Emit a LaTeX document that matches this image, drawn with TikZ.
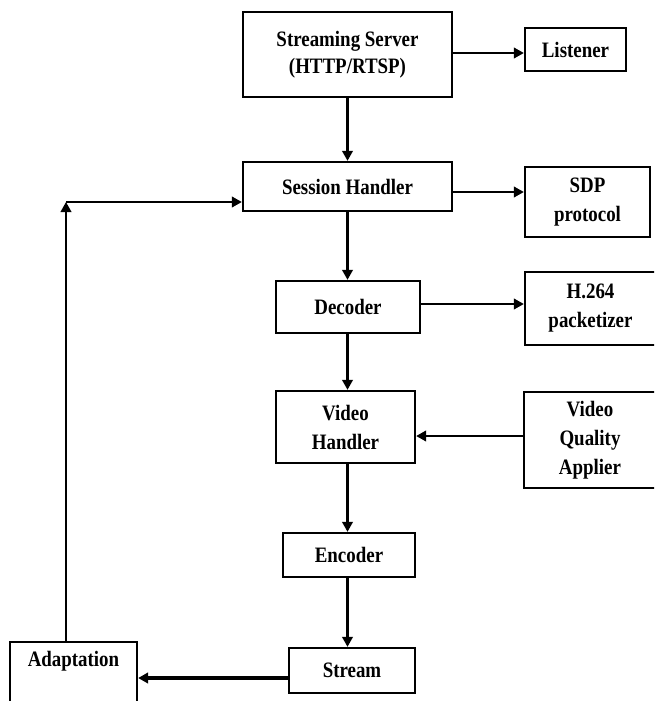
\documentclass[tikz,border=0pt]{standalone}
\usepackage{fontspec}
\setmainfont{Liberation Serif}[FakeStretch=0.86]
\usetikzlibrary{arrows.meta}
\begin{document}
\begin{tikzpicture}[x=1pt,y=-1pt,
  txt/.style={align=center, inner sep=0pt, font=\fontsize{22}{29}\selectfont\bfseries},
  box/.style={txt, draw, line width=2.3pt},
  conn/.style={line width=2.3pt, -{Triangle[length=10pt,width=10.5pt]}}]
\useasboundingbox (0,0) rectangle (654,701);
\clip (0,0) rectangle (654,701);
\fill[white] (0,0) rectangle (654,701);
\node[box, minimum width=209pt, minimum height=85pt] (srv) at (347.5,54.5) {Streaming Server\\[-2pt](HTTP/RTSP)};
\node[box, minimum width=101pt, minimum height=43pt] (lis) at (575.5,49.5) {Listener};
\node[box, minimum width=209pt, minimum height=49pt] (ses) at (347.5,186.5) {Session Handler};
\node[box, minimum width=125pt, minimum height=70pt] (sdp) at (587.5,202) {SDP\\protocol};
\node[box, minimum width=144pt, minimum height=52pt] (dec) at (348,307) {Decoder};
\node[box, minimum width=131pt, minimum height=73pt] (h264) at (590.5,308.5) {H.264\\packetizer};
\node[box, minimum width=139pt, minimum height=72pt] (vh) at (345.5,427) {Video\\Handler};
\node[box, minimum width=132pt, minimum height=96pt] (vqa) at (590,440) {Video\\Quality\\Applier};
\node[box, minimum width=132pt, minimum height=44pt] (enc) at (349,555) {Encoder};
\node[box, minimum width=126pt, minimum height=45pt] (str) at (352,670.5) {Stream};
\node[box, minimum width=127pt, minimum height=120pt] (adb) at (73.5,702) {};
\node[txt] (adt) at (73.5,661) {Adaptation};
\coordinate (y1) at (0,53);
\coordinate (y2) at (0,192);
\coordinate (y3) at (0,304);
\coordinate (y4) at (0,436);
\coordinate (y5) at (0,678);
\coordinate (cx) at (66,202);
\draw[conn] (srv.east |- y1) -- (lis.west |- y1);
\draw[conn] (srv.south) -- (ses.north);
\draw[conn] (ses.east |- y2) -- (sdp.west |- y2);
\draw[conn] (ses.south) -- (ses.south |- dec.north);
\draw[conn] (dec.east |- y3) -- (h264.west |- y3);
\draw[conn] (ses.south |- dec.south) -- (ses.south |- vh.north);
\draw[conn] (vqa.west |- y4) -- (vh.east |- y4);
\draw[conn] (ses.south |- vh.south) -- (ses.south |- enc.north);
\draw[conn] (ses.south |- enc.south) -- (ses.south |- str.north);
\draw[conn, line width=3.3pt] (str.west |- y5) -- (adb.east |- y5);
\draw[conn] (adb.north -| cx) -- (cx);
\draw[conn] (cx) -- (ses.west |- cx);
\end{tikzpicture}
\end{document}
